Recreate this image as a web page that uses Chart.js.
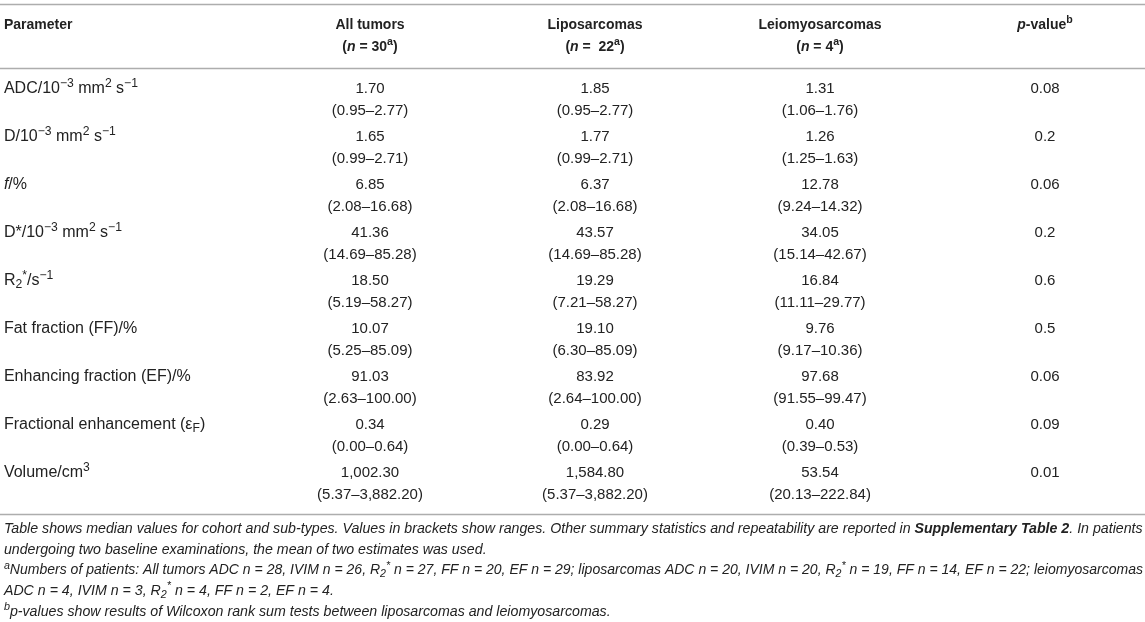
<!doctype html>
<html lang="en">

<head>
  <meta charset="utf-8">
  <title>Median imaging parameters by tumour sub-type</title>
  <script src="https://cdn.jsdelivr.net/npm/chart.js"></script>
  <style>
    html, body { margin: 0; padding: 0; background: #fff; }
    canvas { display: block; }
  </style>
</head>

<body>
  <canvas id="tableChart" width="1145" height="622" role="img"
    aria-label="Table of median values and ranges for all tumors, liposarcomas and leiomyosarcomas"></canvas>

  <script>
    // === DATA ===

    // column headers (mini markup: <b>, <i>, <sup>, <sub>)
    const columns = ["Parameter", "All tumors", "Liposarcomas", "Leiomyosarcomas", "<i>p</i>-value<sup>b</sup>"];
    const groupSizes = ["(<i>n</i> = 30<sup>a</sup>)", "(<i>n</i> =  22<sup>a</sup>)", "(<i>n</i> = 4<sup>a</sup>)"];

    const parameters = [
      "ADC/10<sup>−3</sup> mm<sup>2</sup> s<sup>−1</sup>",
      "D/10<sup>−3</sup> mm<sup>2</sup> s<sup>−1</sup>",
      "<i>f</i>/%",
      "D*/10<sup>−3</sup> mm<sup>2</sup> s<sup>−1</sup>",
      "R<sub>2</sub><sup>*</sup>/s<sup>−1</sup>",
      "Fat fraction (FF)/%",
      "Enhancing fraction (EF)/%",
      "Fractional enhancement (ε<sub>F</sub>)",
      "Volume/cm<sup>3</sup>"
    ];

    // All tumors
    const allMedian = [1.70, 1.65, 6.85, 41.36, 18.50, 10.07, 91.03, 0.34, 1002.30];
    const allMin = [0.95, 0.99, 2.08, 14.69, 5.19, 5.25, 2.63, 0.00, 5.37];
    const allMax = [2.77, 2.71, 16.68, 85.28, 58.27, 85.09, 100.00, 0.64, 3882.20];

    // Liposarcomas
    const lipoMedian = [1.85, 1.77, 6.37, 43.57, 19.29, 19.10, 83.92, 0.29, 1584.80];
    const lipoMin = [0.95, 0.99, 2.08, 14.69, 7.21, 6.30, 2.64, 0.00, 5.37];
    const lipoMax = [2.77, 2.71, 16.68, 85.28, 58.27, 85.09, 100.00, 0.64, 3882.20];

    // Leiomyosarcomas
    const leioMedian = [1.31, 1.26, 12.78, 34.05, 16.84, 9.76, 97.68, 0.40, 53.54];
    const leioMin = [1.06, 1.25, 9.24, 15.14, 11.11, 9.17, 91.55, 0.39, 20.13];
    const leioMax = [1.76, 1.63, 14.32, 42.67, 29.77, 10.36, 99.47, 0.53, 222.84];

    // Wilcoxon rank sum p-values
    const pValues = [0.08, 0.2, 0.06, 0.2, 0.6, 0.5, 0.06, 0.09, 0.01];

    // footnote lines under the table
    const footnotes = [
      "<i>Table shows median values for cohort and sub-types. Values in brackets show ranges. Other summary statistics and repeatability are reported in </i><b><i>Supplementary Table 2</i></b><i>. In patients</i>",
      "<i>undergoing two baseline examinations, the mean of two estimates was used.</i>",
      "<sup><i>a</i></sup><i>Numbers of patients: All tumors ADC n = 28, IVIM n = 26, R<sub>2</sub><sup>*</sup> n = 27, FF n = 20, EF n = 29; liposarcomas ADC n = 20, IVIM n = 20, R<sub>2</sub><sup>*</sup> n = 19, FF n = 14, EF n = 22; leiomyosarcomas</i>",
      "<i>ADC n = 4, IVIM n = 3, R<sub>2</sub><sup>*</sup> n = 4, FF n = 2, EF n = 4.</i>",
      "<sup><i>b</i></sup><i>p-values show results of Wilcoxon rank sum tests between liposarcomas and leiomyosarcomas.</i>"
    ];

    // === LAYOUT (scale units: one column per x unit, one row per y unit) ===

    const FONT = '"Liberation Sans", Arial, Helvetica, sans-serif';
    const TEXT_COLOR = "#222222";
    const RULE_COLOR = "#adadad";
    const PARAM_X = -0.627;          // left edge of the parameter column
    const HEADER_ROW = -0.333;
    const RULE_ROWS = [-0.771, 0.5625, 9.854];
    const FOOT_ROW = 10.167;
    const LINE_GAP = 22;             // px between median and range line
    const FOOT_GAP = 20.75;          // px between footnote lines
    const HEAD_SIZE = 14;
    const LABEL_SIZE = 16;
    const VALUE_SIZE = 15;
    const FOOT_SIZE = 14.2;

    // === HELPERS ===

    function fmt(v) {
      return v.toLocaleString("en-US", { minimumFractionDigits: 2, maximumFractionDigits: 2 });
    }

    function rangeText(lo, hi) {
      return "(" + fmt(lo) + "–" + fmt(hi) + ")";
    }

    // split the mini markup into styled runs
    function parseRich(str) {
      const runs = [];
      const state = { b: 0, i: 0, sup: 0, sub: 0 };
      const re = /<(\/?)(b|i|sup|sub)>/g;
      let last = 0, m;
      while ((m = re.exec(str)) !== null) {
        if (m.index > last) runs.push({ text: str.slice(last, m.index), ...state });
        state[m[2]] += m[1] ? -1 : 1;
        last = re.lastIndex;
      }
      if (last < str.length) runs.push({ text: str.slice(last), ...state });
      return runs;
    }

    function runFont(run, size, bold) {
      const s = (run.sup || run.sub) ? size * 0.76 : size;
      return (run.i ? "italic " : "") + ((run.b || bold) ? "bold " : "") + s.toFixed(2) + "px " + FONT;
    }

    function drawRich(ctx, str, x, y, opts) {
      const size = opts.size || 14;
      const runs = parseRich(str);
      ctx.save();
      ctx.textBaseline = "middle";
      ctx.textAlign = "left";
      let width = 0;
      runs.forEach(r => { ctx.font = runFont(r, size, opts.bold); width += ctx.measureText(r.text).width; });
      const scaleX = opts.maxWidth && width > opts.maxWidth ? opts.maxWidth / width : 1;
      width *= scaleX;
      let cx = opts.align === "center" ? x - width / 2 : x;
      runs.forEach(r => {
        ctx.font = runFont(r, size, opts.bold);
        let dy = 0;
        if (r.sup) dy = -size * 0.34;
        if (r.sub) dy = size * 0.24;
        ctx.save();
        ctx.translate(cx, y + dy);
        ctx.scale(scaleX, 1);
        ctx.fillStyle = TEXT_COLOR;
        ctx.fillText(r.text, 0, 0);
        ctx.restore();
        cx += ctx.measureText(r.text).width * scaleX;
      });
      ctx.restore();
    }

    // === TABLE PLUGIN: writes the cells at the dataset point positions ===

    const tablePlugin = {
      id: "tableText",
      afterDatasetsDraw(chart) {
        const ctx = chart.ctx;
        const xs = chart.scales.x;
        const ys = chart.scales.y;
        const area = chart.chartArea;
        const left = xs.getPixelForValue(PARAM_X);

        // horizontal rules
        ctx.save();
        ctx.strokeStyle = RULE_COLOR;
        ctx.lineWidth = 1.6;
        RULE_ROWS.forEach(v => {
          const y = Math.round(ys.getPixelForValue(v)) + 0.5;
          ctx.beginPath();
          ctx.moveTo(area.left, y);
          ctx.lineTo(area.right, y);
          ctx.stroke();
        });
        ctx.restore();

        // header
        const hy = ys.getPixelForValue(HEADER_ROW);
        drawRich(ctx, columns[0], left, hy, { size: HEAD_SIZE, bold: true });
        for (let c = 1; c < columns.length; c++) {
          const hx = xs.getPixelForValue(c);
          drawRich(ctx, columns[c], hx, hy, { size: HEAD_SIZE, bold: true, align: "center" });
          if (groupSizes[c - 1]) {
            drawRich(ctx, groupSizes[c - 1], hx, hy + LINE_GAP, { size: HEAD_SIZE, bold: true, align: "center" });
          }
        }

        // parameter names
        parameters.forEach((p, i) => {
          drawRich(ctx, p, left, ys.getPixelForValue(i + 1), { size: LABEL_SIZE });
        });

        // value cells
        const groups = [
          [allMedian, allMin, allMax],
          [lipoMedian, lipoMin, lipoMax],
          [leioMedian, leioMin, leioMax]
        ];
        groups.forEach((g, d) => {
          chart.getDatasetMeta(d).data.forEach((pt, i) => {
            drawRich(ctx, fmt(g[0][i]), pt.x, pt.y, { size: VALUE_SIZE, align: "center" });
            drawRich(ctx, rangeText(g[1][i], g[2][i]), pt.x, pt.y + LINE_GAP, { size: VALUE_SIZE, align: "center" });
          });
        });
        chart.getDatasetMeta(3).data.forEach((pt, i) => {
          drawRich(ctx, String(pValues[i]), pt.x, pt.y, { size: VALUE_SIZE, align: "center" });
        });

        // footnotes
        const fy = ys.getPixelForValue(FOOT_ROW);
        footnotes.forEach((f, i) => {
          drawRich(ctx, f, left, fy + i * FOOT_GAP, { size: FOOT_SIZE, maxWidth: area.right - left - 2 });
        });
      }
    };

    // === CHART ===

    function cellPoints(col, values) {
      return values.map((v, i) => ({ x: col, y: i + 1 }));
    }

    new Chart(document.getElementById("tableChart"), {
      type: "scatter",
      data: {
        datasets: [
          { label: "All tumors", data: cellPoints(1, allMedian) },
          { label: "Liposarcomas", data: cellPoints(2, lipoMedian) },
          { label: "Leiomyosarcomas", data: cellPoints(3, leioMedian) },
          { label: "p-value", data: cellPoints(4, pValues) }
        ]
      },
      options: {
        responsive: false,
        animation: false,
        layout: { padding: 0 },
        elements: { point: { radius: 0, hoverRadius: 0 } },
        plugins: { legend: { display: false }, tooltip: { enabled: false } },
        events: [],
        scales: {
          x: { type: "linear", display: false, min: -0.6444, max: 4.4444 },
          y: { type: "linear", display: false, min: -0.854, max: 12.104, reverse: true }
        }
      },
      plugins: [tablePlugin]
    });
  </script>

</body>

</html>
